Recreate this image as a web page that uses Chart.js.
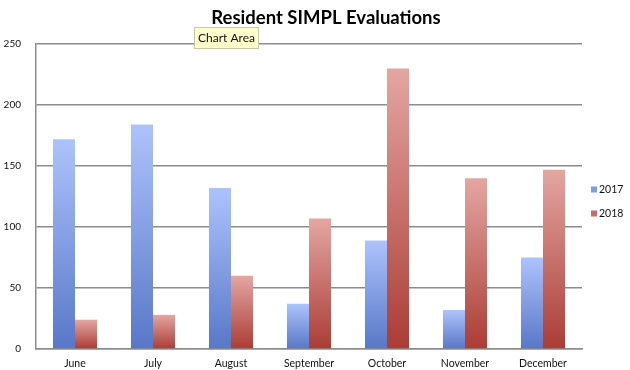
<!DOCTYPE html>
<html>
<head>
<meta charset="utf-8">
<script src="https://cdn.jsdelivr.net/npm/chart.js@4/dist/chart.umd.min.js"></script>
<style>
  html, body { margin: 0; padding: 0; background: #ffffff; }
  #wrap { width: 630px; height: 370px; position: relative; }
</style>
</head>
<body>
<div id="wrap"><canvas id="chart"></canvas></div>
<script>
const months = ['June', 'July', 'August', 'September', 'October', 'November', 'December'];
const evals2017 = [172, 184, 132, 37, 89, 32, 75];
const evals2018 = [24, 28, 60, 107, 230, 140, 147];
const yTicks = [0, 50, 100, 150, 200, 250];
const chartTitle = 'Resident SIMPL Evaluations';

const FONT = 'Lato, "Open Sans", sans-serif';
const swatch = ['#7f9ce6', '#cc6b66'];

// Vertical gradient per bar: light at the top, saturated at the base
function barGradient(top, bottom) {
  return function (context) {
    const chart = context.chart;
    if (!chart.chartArea || context.type !== 'data') return bottom;
    const y = chart.scales.y;
    const v = context.parsed ? context.parsed.y : context.raw;
    const yTop = y.getPixelForValue(v);
    const yBase = y.getPixelForValue(0);
    if (!isFinite(yTop) || !isFinite(yBase) || yTop === yBase) return bottom;
    const g = chart.ctx.createLinearGradient(0, yTop, 0, yBase);
    g.addColorStop(0, top);
    g.addColorStop(1, bottom);
    return g;
  };
}

// Heading centred over the whole figure
const heading = {
  id: 'heading',
  afterDraw(chart) {
    const ctx = chart.ctx;
    ctx.save();
    ctx.font = 'bold 18.5px ' + FONT;
    ctx.fillStyle = '#000000';
    ctx.textAlign = 'center';
    ctx.textBaseline = 'middle';
    ctx.fillText(chartTitle, 326, 18);
    ctx.restore();
  }
};

// Series key at the right edge of the plot
const sideLegend = {
  id: 'sideLegend',
  afterDraw(chart) {
    const ctx = chart.ctx;
    const x = chart.chartArea.right + 9;
    const rows = [190, 214];
    ctx.save();
    ctx.font = '10.5px ' + FONT;
    ctx.textBaseline = 'middle';
    chart.data.datasets.forEach((ds, i) => {
      const y = rows[i];
      ctx.fillStyle = swatch[i];
      ctx.fillRect(x, y - 3.5, 6, 6);
      ctx.fillStyle = '#111111';
      ctx.fillText(ds.label, x + 8, y);
    });
    ctx.restore();
  }
};

// Small hover note drawn near the top of the plot
const chartAreaNote = {
  id: 'chartAreaNote',
  afterDraw(chart) {
    const ctx = chart.ctx;
    ctx.save();
    ctx.font = '12px ' + FONT;
    const text = 'Chart Area';
    const w = ctx.measureText(text).width + 8;
    const x = 194, y = 27, h = 22;
    ctx.fillStyle = '#ffffcc';
    ctx.strokeStyle = '#c8c8a8';
    ctx.lineWidth = 1;
    ctx.fillRect(x, y, w, h);
    ctx.strokeRect(x + 0.5, y + 0.5, w - 1, h - 1);
    ctx.fillStyle = '#111111';
    ctx.textBaseline = 'middle';
    ctx.fillText(text, x + 4, y + h / 2 + 0.5);
    ctx.restore();
  }
};

new Chart(document.getElementById('chart'), {
  type: 'bar',
  data: {
    labels: months,
    datasets: [
      {
        label: '2017',
        data: evals2017,
        backgroundColor: barGradient('#adc3fd', '#5877c6'),
        borderWidth: 0
      },
      {
        label: '2018',
        data: evals2018,
        backgroundColor: barGradient('#e4a6a2', '#ab3c35'),
        borderWidth: 0
      }
    ]
  },
  options: {
    responsive: true,
    maintainAspectRatio: false,
    animation: false,
    devicePixelRatio: 1,
    layout: { padding: { left: 0, right: 48, top: 44, bottom: 0 } },
    datasets: {
      bar: { categoryPercentage: 0.565, barPercentage: 1.0 }
    },
    plugins: {
      title: { display: false },
      legend: { display: false },
      tooltip: { enabled: false }
    },
    scales: {
      x: {
        afterFit(scale) { scale.height = 20.5; },
        grid: { display: false, drawTicks: false, tickLength: 0 },
        border: { display: true, color: '#8c8c8c', width: 1.5 },
        ticks: {
          color: '#111111',
          font: { family: FONT, size: 10.5 },
          padding: 8,
          maxRotation: 0
        }
      },
      y: {
        min: 0,
        max: 250,
        afterFit(scale) { scale.width = 36; },
        afterBuildTicks(scale) {
          scale.ticks = yTicks.map(v => ({ value: v }));
        },
        grid: { color: '#8c8c8c', lineWidth: 1.5, drawTicks: false, tickLength: 0 },
        border: { display: true, color: '#8c8c8c', width: 1.5 },
        ticks: {
          color: '#111111',
          font: { family: FONT, size: 10 },
          padding: 15
        }
      }
    }
  },
  plugins: [heading, sideLegend, chartAreaNote]
});
</script>
</body>
</html>
